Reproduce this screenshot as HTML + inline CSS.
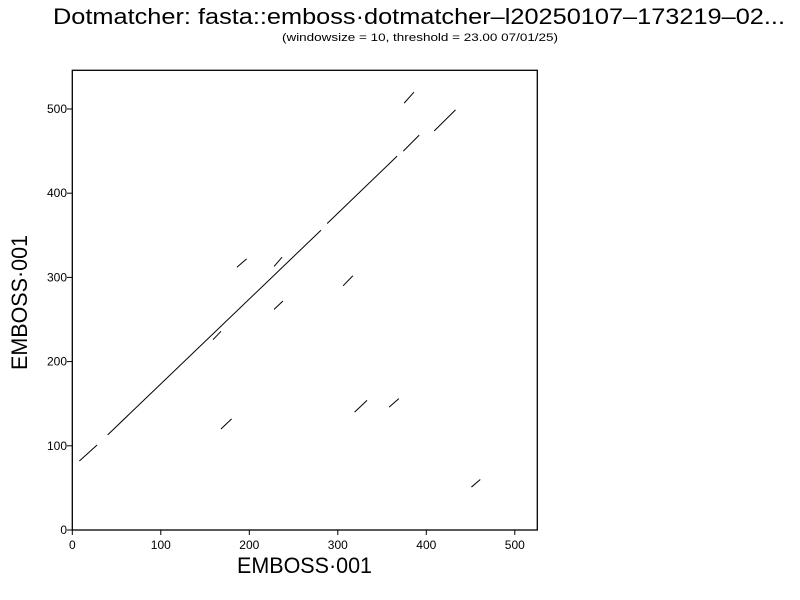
<!DOCTYPE html>
<html><head><meta charset="utf-8"><style>body{margin:0;background:#fff}svg{display:block}text{font-family:"Liberation Sans",sans-serif;fill:#000}</style></head>
<body>
<svg width="800" height="600">
<text x="53" y="24" font-size="22" textLength="732" lengthAdjust="spacingAndGlyphs">Dotmatcher: fasta::emboss·dotmatcher–l20250107–173219–02...</text>
<text x="282" y="41" font-size="11" textLength="276" lengthAdjust="spacingAndGlyphs">(windowsize = 10, threshold = 23.00  07/01/25)</text>
<rect x="72.3" y="70.3" width="465" height="459.7" fill="none" stroke="#000" stroke-width="1.3"/>
<g id="ticks"></g>
<g id="segs"></g>
<text x="237" y="573" font-size="22" textLength="135" lengthAdjust="spacingAndGlyphs">EMBOSS·001</text>
<text transform="translate(27,370) rotate(-90)" font-size="22" textLength="135" lengthAdjust="spacingAndGlyphs">EMBOSS·001</text>
</svg>
<script>
const xTicks=[0,100,200,300,400,500];
const yTicks=[0,100,200,300,400,500];
const segX1=[8,40,288,374,409,375,186,228,306,228,159,168,319,358,451];
const segY1=[82,113,364,450,474,507,312,313,290,262,226,120,140,146,51];
const segX2=[28,281,367,392,433,386,197,237,317,238,168,180,333,369,461];
const segY2=[101,356,444,469,499,520,322,324,302,272,236,132,154,156,60];
const X=v=>72.3+v*0.885, Y=v=>530-v*0.842;
const NS='http://www.w3.org/2000/svg';
const tg=document.getElementById('ticks'), sg=document.getElementById('segs');
function mk(tag,a,p){const e=document.createElementNS(NS,tag);for(const k in a)e.setAttribute(k,a[k]);p.appendChild(e);return e;}
xTicks.forEach(t=>{
const l=mk('line',{x1:X(t),x2:X(t),y1:530,y2:535,stroke:'#000'},tg);


const s=mk('text',{x:X(t),y:549,'font-size':12,'text-anchor':'middle'},tg);s.textContent=t;


});
yTicks.forEach(t=>{
const l=mk('line',{x1:67,x2:72.3,y1:Y(t),y2:Y(t),stroke:'#000'},tg);


const s=mk('text',{x:67,y:Y(t)+4,'font-size':12,'text-anchor':'end'},tg);s.textContent=t;


});
segX1.forEach((v,i)=>{
const l=mk('line',{x1:X(v),y1:Y(segY1[i]),x2:X(segX2[i]),y2:Y(segY2[i]),stroke:'#000','stroke-width':1},sg);


});
</script>
</body></html>
